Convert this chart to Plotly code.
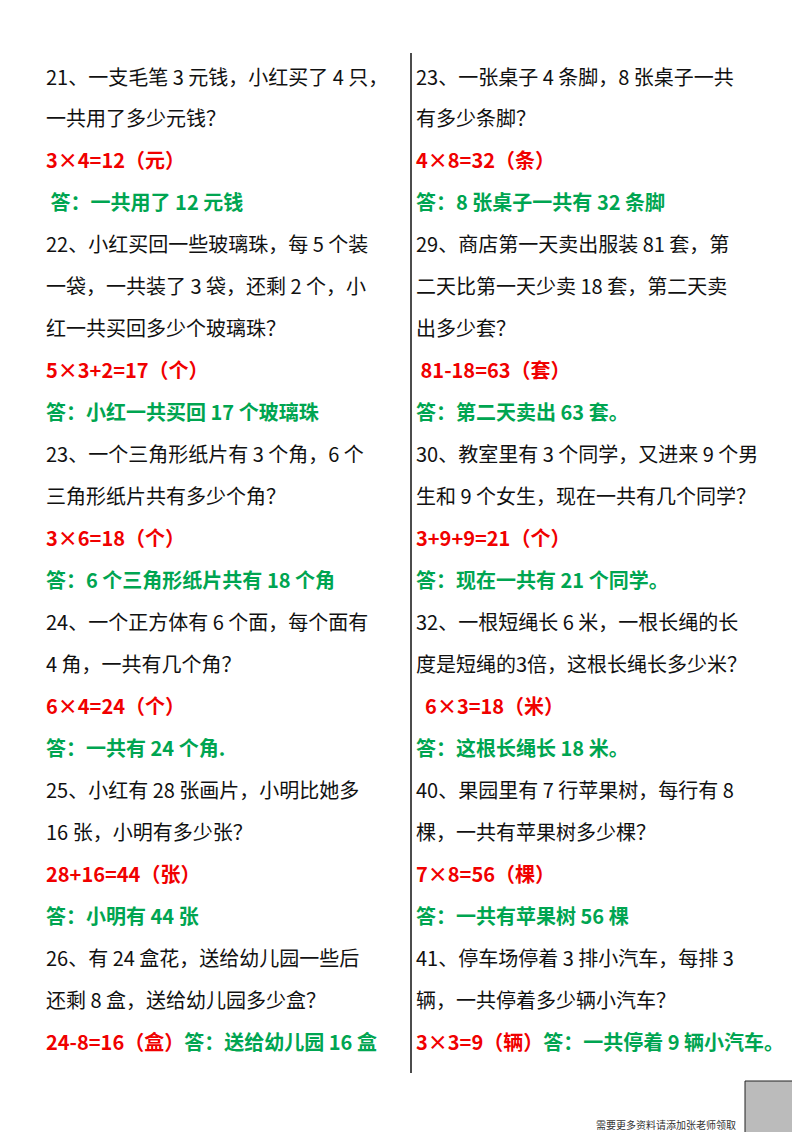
import plotly.graph_objects as go

LEFT_LINES = [
    "21、一支毛笔 3 元钱，小红买了 4 只，",
    "一共用了多少元钱？",
    "3×4=12（元）",
    " 答：一共用了 12 元钱",
    "22、小红买回一些玻璃珠，每 5 个装",
    "一袋，一共装了 3 袋，还剩 2 个，小",
    "红一共买回多少个玻璃珠？",
    "5×3+2=17（个）",
    "答：小红一共买回 17 个玻璃珠",
    "23、一个三角形纸片有 3 个角，6 个",
    "三角形纸片共有多少个角？",
    "3×6=18（个）",
    "答：6 个三角形纸片共有 18 个角",
    "24、一个正方体有 6 个面，每个面有",
    "4 角，一共有几个角？",
    "6×4=24（个）",
    "答：一共有 24 个角.",
    "25、小红有 28 张画片，小明比她多",
    "16 张，小明有多少张？",
    "28+16=44（张）",
    "答：小明有 44 张",
    "26、有 24 盒花，送给幼儿园一些后",
    "还剩 8 盒，送给幼儿园多少盒？",
    "24-8=16（盒）|答：送给幼儿园 16 盒",
]
LEFT_STYLE = "kkrgkkkrgkkrgkkrgkkrgkkm"

RIGHT_LINES = [
    "23、一张桌子 4 条脚，8 张桌子一共",
    "有多少条脚？",
    "4×8=32（条）",
    "答：8 张桌子一共有 32 条脚",
    "29、商店第一天卖出服装 81 套，第",
    "二天比第一天少卖 18 套，第二天卖",
    "出多少套？",
    " 81-18=63（套）",
    "答：第二天卖出 63 套。",
    "30、教室里有 3 个同学，又进来 9 个男",
    "生和 9 个女生，现在一共有几个同学？",
    "3+9+9=21（个）",
    "答：现在一共有 21 个同学。",
    "32、一根短绳长 6 米，一根长绳的长",
    "度是短绳的3倍，这根长绳长多少米？",
    "  6×3=18（米）",
    "答：这根长绳长 18 米。",
    "40、果园里有 7 行苹果树，每行有 8",
    "棵，一共有苹果树多少棵？",
    "7×8=56（棵）",
    "答：一共有苹果树 56 棵",
    "41、停车场停着 3 排小汽车，每排 3",
    "辆，一共停着多少辆小汽车？",
    "3×3=9（辆）|答：一共停着 9 辆小汽车。",
]
RIGHT_STYLE = "kkrgkkkrgkkrgkkrgkkrgkkm"

FOOTER = "需要更多资料请添加张老师领取"

RED = "#f00000"
GREEN = "#00a551"
FONT = "Noto Sans CJK SC"


def styled(text, code):
    if code == "k":
        return text
    if code == "r":
        return f"<b><span style='color:{RED}'>{text}</span></b>"
    if code == "g":
        return f"<b><span style='color:{GREEN}'>{text}</span></b>"
    a, b = text.split("|")
    return (f"<b><span style='color:{RED}'>{a}</span>"
            f"<span style='color:{GREEN}'>{b}</span></b>")


fig = go.Figure()
annotations = []
y0, dy = 68, 41.96
for x0, lines, codes in [(36, LEFT_LINES, LEFT_STYLE), (406, RIGHT_LINES, RIGHT_STYLE)]:
    for i, (t, c) in enumerate(zip(lines, codes)):
        annotations.append(dict(
            x=x0, y=y0 + i * dy, xref="x", yref="y", text=styled(t.replace(" ", "&nbsp;"), c),
            showarrow=False, xanchor="left", yanchor="middle",
            font=dict(family=FONT, size=20, color="#111"),
        ))
annotations.append(dict(
    x=730, y=1116, xref="x", yref="y", text=FOOTER, showarrow=False,
    xanchor="right", yanchor="middle", font=dict(family=FONT, size=10, color="#333"),
))

fig.add_shape(type="line", x0=403, x1=403, y0=45, y1=1065, xref="x", yref="y",
              line=dict(color="#111", width=1.5))
# QR placeholder
fig.add_shape(type="rect", x0=737, x1=793, y0=1073, y1=1129, xref="x", yref="y",
              line=dict(color="#222", width=1), fillcolor="#bbb")

fig.update_layout(
    width=800, height=1132, margin=dict(l=0, r=0, t=0, b=0),
    paper_bgcolor="white", plot_bgcolor="white", showlegend=False,
    annotations=annotations,
    xaxis=dict(range=[0, 800], visible=False, fixedrange=True),
    yaxis=dict(range=[1132, 0], visible=False, fixedrange=True),
)
fig.write_html("out.html")
